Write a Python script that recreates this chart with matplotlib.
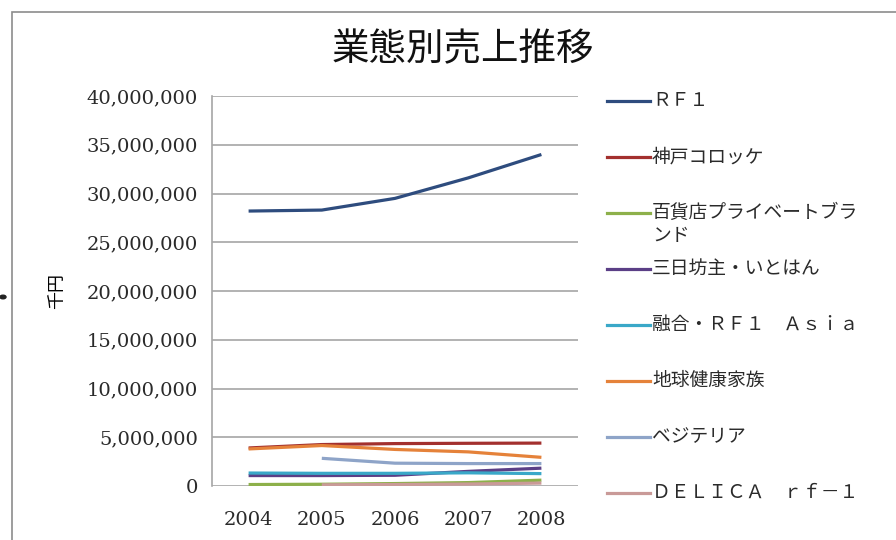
import numpy as np
import matplotlib
matplotlib.use("Agg")
import matplotlib.pyplot as plt
from matplotlib.lines import Line2D
from matplotlib.patches import Rectangle, Circle
from matplotlib.ticker import FuncFormatter

plt.rcParams["font.family"] = ["Noto Sans CJK JP", "DejaVu Sans"]

years = ["2004", "2005", "2006", "2007", "2008"]
names = [
    "ＲＦ１",
    "神戸コロッケ",
    "百貨店プライベートブラ\nンド",
    "三日坊主・いとはん",
    "融合・ＲＦ１　Ａｓｉａ",
    "地球健康家族",
    "ベジテリア",
    "ＤＥＬＩＣＡ　ｒｆ－１",
]
# sales, thousand yen
rf1 = [28200000, 28300000, 29500000, 31600000, 34000000]
kobe = [3900000, 4250000, 4350000, 4380000, 4400000]
depato_pb = [150000, 180000, 250000, 350000, 600000]
mikka = [1070000, 1070000, 1100000, 1500000, 1830000]
yugo_asia = [1330000, 1300000, 1300000, 1350000, 1270000]
chikyu = [3800000, 4150000, 3750000, 3500000, 2940000]
vegeteria = [np.nan, 2840000, 2340000, 2300000, 2300000]
delica = [np.nan, 120000, 150000, 200000, 300000]

series = [rf1, kobe, depato_pb, mikka, yugo_asia, chikyu, vegeteria, delica]
colors = ["#2E4C7E", "#A3302E", "#8DB04A", "#5B3F86",
          "#3AA8C8", "#E5823A", "#8EA4C8", "#C99A98"]

fig = plt.figure(figsize=(8.96, 5.4), dpi=100)
W, H = 896, 540
ax = fig.add_axes([212 / W, 1 - 486 / H, 366 / W, 390 / H])

x = np.arange(len(years))
lines = []
for vals, name, c in zip(series, names, colors):
    ln, = ax.plot(x, vals, color=c, lw=2.3, label=name, solid_capstyle="butt")
    lines.append(ln)

ax.set_xlim(-0.5, len(years) - 0.5)
ax.set_ylim(0, 40000000)
ax.set_yticks(np.arange(0, 40000001, 5000000))
ax.yaxis.set_major_formatter(FuncFormatter(lambda v, p: f"{int(v):,}"))
ax.set_xticks(x)
ax.set_xticklabels(years)
ax.grid(axis="y", color="#A6A6A6", lw=1.2)
ax.set_axisbelow(True)
for s in ["top", "right", "bottom"]:
    ax.spines[s].set_visible(False)
ax.spines["left"].set_color("#A6A6A6")
ax.spines["left"].set_linewidth(1.2)
ax.tick_params(axis="y", length=0, pad=10, labelsize=14, colors="#2A2A2A")
ax.tick_params(axis="x", length=0, pad=18, labelsize=14, colors="#2A2A2A")
for lab in ax.get_yticklabels() + ax.get_xticklabels():
    lab.set_family("DejaVu Serif")

ax.set_ylabel("千円", fontsize=13, rotation=90)
ax.yaxis.set_label_coords(-0.4, 0.5)

fig.text(463 / W, 1 - 50 / H, "業態別売上推移", ha="center", va="center",
         fontsize=27, color="#111111")

# legend, one row per series
top, step = 101, 56
for i, ln in enumerate(lines):
    y = 1 - (top + i * step) / H
    fig.add_artist(Line2D([607 / W, 650 / W], [y, y], color=ln.get_color(),
                          lw=2.3, transform=fig.transFigure))
    fig.text(652 / W, y + 11 / H, ln.get_label(), ha="left", va="top",
             fontsize=13.5, color="#2A2A2A", linespacing=1.1)

# outer frame from the screenshot
fig.add_artist(Rectangle((12 / W, -0.05), 1.1, 1 - 12 / H + 0.05,
                         transform=fig.transFigure, fill=False,
                         edgecolor="#8C8C8C", lw=1.2))
fig.add_artist(Circle((3 / W, 1 - 297 / H), 3 / W, transform=fig.transFigure,
                      color="#222222"))

fig.savefig("out.png", dpi=100)
